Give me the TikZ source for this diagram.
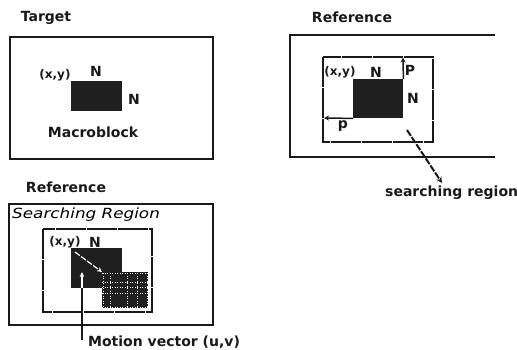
\documentclass[tikz,border=0pt]{standalone}
\usepackage{fontspec}
\setmainfont{DejaVu Sans}
\usetikzlibrary{arrows.meta}
\begin{document}
\begin{tikzpicture}[x=1pt,y=-1pt,
  lbl/.style={font=\fontsize{14}{16}\selectfont\bfseries, inner sep=0pt, text=black!90},
  slbl/.style={font=\fontsize{12}{14}\selectfont\bfseries, inner sep=0pt, text=black!90},
  frame/.style={line width=1.6pt, draw=black!90},
  region/.style={line width=2.2pt, draw=black!90, dash pattern=on 30pt off 1pt},
  blk/.style={fill=black!88, draw=none, inner sep=0pt, anchor=north west},
  wdot/.style={draw=white, line width=0.7pt, dash pattern=on 1.2pt off 1.3pt},
  arr/.style={line width=1.5pt, draw=black!90, -{Stealth[length=5pt,width=5pt]}}]
\useasboundingbox (0,0) rectangle (517,349);

% ---------- Target ----------
\node[lbl] (tT) at (46,18) {Target};
\draw[frame] (10,37) rectangle (213,159);
\node[blk, minimum width=51pt, minimum height=30pt] (mb) at (71,81) {};
\node[slbl] (txy) at (55,75) {(x,y)};
\node[lbl] (tN1) at (96,71) {N};
\node[lbl] (tN2) at (134,99) {N};
\node[lbl] (tmb) at (93,132) {Macroblock};

% ---------- Reference (top right) ----------
\node[lbl] (rT) at (352,17) {Reference};
\draw[frame] (495,35) -- (290,35) -- (290,157) -- (495,157);
\draw[region] (323,57) rectangle (433,142);
\node[blk, minimum width=50pt, minimum height=39pt] (rb) at (353,79) {};
\coordinate (rtop) at (403,57.5);
\coordinate (rleft) at (324,118);
\draw[arr] (rb.north east) -- (rtop);
\draw[arr] (rb.south west) -- (rleft);
\node[slbl] (rxy) at (340,72) {(x,y)};
\node[lbl] (rN1) at (376,72) {N};
\node[lbl] (rP) at (410,70) {P};
\node[lbl] (rN2) at (413,98) {N};
\node[lbl] (rp) at (343,126) {p};
\node[lbl, anchor=west] (sr) at (385,193) {searching region};
\coordinate (srs) at (407,130);
\draw[line width=2pt, draw=black!90, dash pattern=on 7pt off 1.5pt, -{Stealth[length=6pt,width=6pt]}] (srs) -- (442,183);

% ---------- Reference (bottom left) ----------
\node[lbl] (bT) at (66,187) {Reference};
\draw[frame] (9,204) rectangle (213,325);
\node[font=\fontsize{14}{16}\selectfont\itshape, inner sep=0pt, anchor=west, xscale=1.2] (bsr) at (12,215) {Searching Region};
\draw[region] (43,229) rectangle (152,312);
\node[blk, minimum width=51pt, minimum height=40pt] (bb) at (71,248) {};
\node[blk, minimum width=46pt, minimum height=36pt] (bm) at (102,272) {};
\foreach \xx in {103,110,127,137,147}
  \draw[wdot] (\xx,273) -- (\xx,308);
\foreach \yy in {273,282,287,293,307}
  \draw[wdot] (102,\yy) -- (148,\yy);
\node[slbl] (bxy) at (65,242) {(x,y)};
\node[lbl] (bN) at (95,242) {N};
\draw[white, line width=1.2pt, dash pattern=on 6pt off 1.5pt, -{Stealth[length=5pt,width=5pt]}] (75,252) -- (bm.north west);
\coordinate (mvb) at (82,340);
\draw[line width=2.4pt, draw=black!90] (mvb) -- (82,288);
\draw[white, line width=1.6pt, -{Stealth[length=5pt,width=4.5pt]}] (82,288) -- (82,272);
\node[lbl, anchor=west] (mv) at (88,342) {Motion vector (u,v)};
\end{tikzpicture}
\end{document}
